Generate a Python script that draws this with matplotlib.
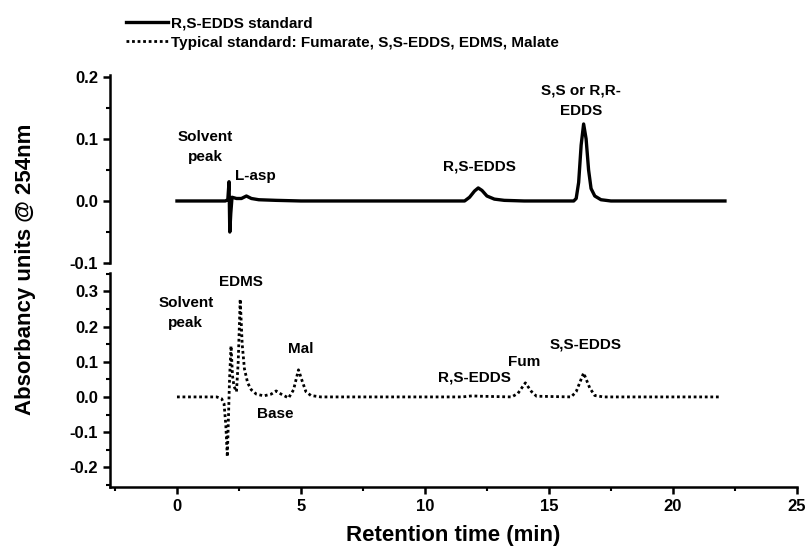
import matplotlib
matplotlib.use("Agg")
import matplotlib.pyplot as plt
from matplotlib.ticker import MultipleLocator, FormatStrFormatter

plt.rcParams['font.family'] = ['Liberation Sans', 'DejaVu Sans']
plt.rcParams['font.weight'] = 'bold'
plt.rcParams['axes.unicode_minus'] = False

# R,S-EDDS standard (solid trace, top panel)
rs_time = [0.0, 1.95, 2.05, 2.10, 2.13, 2.17, 2.22, 2.4, 2.6, 2.8, 3.0, 3.3, 4.0, 5.0,
           11.6, 11.8, 12.0, 12.15, 12.3, 12.5, 12.8, 13.2, 14.0,
           16.0, 16.1, 16.2, 16.3, 16.4, 16.5, 16.6, 16.7, 16.85, 17.1, 17.5, 22.1]
rs_abs = [0.0, 0.0, 0.002, 0.031, -0.05, -0.02, 0.006, 0.004, 0.004, 0.008, 0.004, 0.002, 0.001, 0.0,
          0.0, 0.006, 0.016, 0.021, 0.017, 0.008, 0.003, 0.001, 0.0,
          0.0, 0.004, 0.03, 0.09, 0.124, 0.1, 0.05, 0.02, 0.008, 0.002, 0.0, 0.0]

# Typical standard (dotted trace, bottom panel)
std_time = [0.0, 1.6, 1.8, 1.9, 1.97, 2.03, 2.08, 2.12, 2.18, 2.24, 2.3, 2.4, 2.47, 2.55, 2.63,
            2.72, 2.85, 3.0, 3.2, 3.5, 3.8, 4.0, 4.2, 4.5, 4.7, 4.9, 5.05, 5.2, 5.4, 5.8,
            11.5, 11.9, 12.2, 13.5, 13.75, 14.05, 14.3, 14.5, 15.9, 16.1, 16.4, 16.65, 16.85, 17.2, 21.9]
std_abs = [0.0, 0.0, -0.005, -0.02, -0.08, -0.17, -0.05, 0.05, 0.145, 0.06, 0.03, 0.015, 0.1, 0.278, 0.15,
           0.08, 0.04, 0.02, 0.008, 0.003, 0.008, 0.017, 0.008, -0.003, 0.02, 0.077, 0.045, 0.015, 0.004, 0.0,
           0.0, 0.003, 0.002, 0.0, 0.01, 0.04, 0.015, 0.002, 0.0, 0.015, 0.068, 0.025, 0.004, 0.0, 0.0]

legend_labels = ["R,S-EDDS standard", "Typical standard: Fumarate, S,S-EDDS, EDMS, Malate"]

top_notes = [("Solvent\npeak", 1.15, 0.087), ("L-asp", 3.17, 0.04),
             ("R,S-EDDS", 12.2, 0.055), ("S,S or R,R-\nEDDS", 16.3, 0.161)]
bot_notes = [("EDMS", 2.57, 0.327), ("Solvent\npeak", 0.36, 0.238), ("Mal", 4.98, 0.136),
             ("Base", 3.97, -0.048), ("R,S-EDDS", 12.0, 0.054), ("Fum", 14.0, 0.10),
             ("S,S-EDDS", 16.5, 0.148)]

fig = plt.figure(figsize=(8.09, 5.55), dpi=100)
ax1 = fig.add_axes([0.136, 0.526, 0.849, 0.339])
ax2 = fig.add_axes([0.136, 0.1225, 0.849, 0.3855])

l1, = ax1.plot(rs_time, rs_abs, color='black', lw=2.4, solid_joinstyle='round')
l2, = ax2.plot(std_time, std_abs, color='black', lw=2.0, linestyle=(0, (1, 1.0)))

for ax in (ax1, ax2):
    ax.set_xlim(-2.7, 25)
    for s in ('top', 'right'):
        ax.spines[s].set_visible(False)
    ax.spines['left'].set_linewidth(1.8)
    ax.spines['bottom'].set_linewidth(1.8)
    ax.tick_params(which='major', direction='out', length=5, width=1.8, labelsize=12)
    ax.tick_params(which='minor', direction='out', length=3, width=1.5)
    ax.yaxis.set_major_formatter(FormatStrFormatter('%.1f'))
    ax.yaxis.set_major_locator(MultipleLocator(0.1))
    ax.yaxis.set_minor_locator(MultipleLocator(0.05))

ax1.spines['bottom'].set_visible(False)
ax1.tick_params(axis='x', which='both', bottom=False, labelbottom=False)
ax1.set_ylim(-0.1, 0.203)
ax2.set_ylim(-0.256, 0.352)
ax2.xaxis.set_major_locator(MultipleLocator(5))
ax2.xaxis.set_minor_locator(MultipleLocator(2.5))
ax2.set_xlabel("Retention time (min)", fontsize=16, fontweight='bold', labelpad=8)

fig.text(0.031, 0.515, "Absorbancy units @ 254nm", rotation=90, fontsize=16,
         fontweight='bold', ha='center', va='center')

for txt, x, y in top_notes:
    ax1.text(x, y, txt, fontsize=11, fontweight='bold', ha='center', va='center', linespacing=1.6)
for txt, x, y in bot_notes:
    ax2.text(x, y, txt, fontsize=11, fontweight='bold', ha='center', va='center', linespacing=1.6)

fig.legend([l1, l2], legend_labels, loc='upper left', bbox_to_anchor=(0.143, 0.99),
           frameon=False, handlelength=2.7, handletextpad=0.2,
           labelspacing=0.35, borderpad=0.2, prop={'weight': 'bold', 'size': 11})

fig.savefig("out.png", dpi=100)
